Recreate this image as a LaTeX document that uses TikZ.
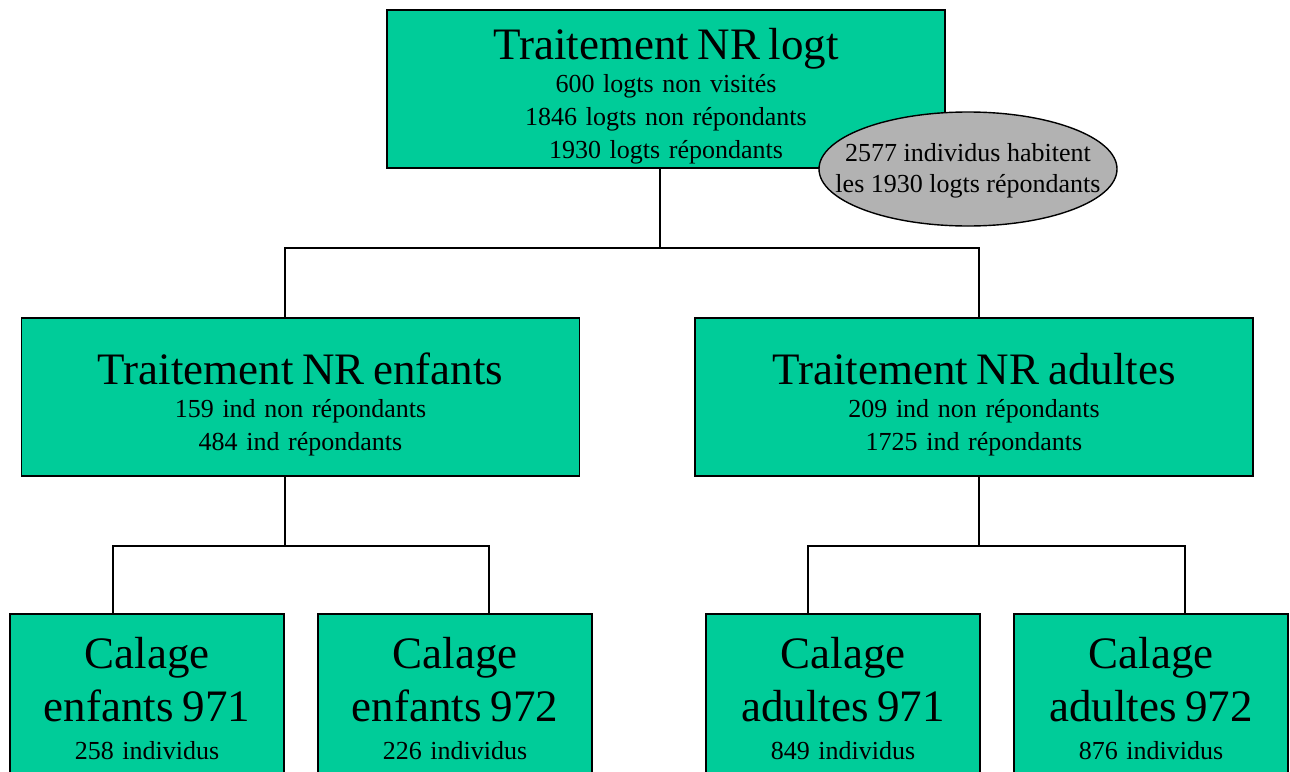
\documentclass[tikz,border=0pt]{standalone}
\usepackage{fontspec}
\setmainfont{Liberation Serif}
\usetikzlibrary{positioning,shapes.geometric}
\definecolor{vertnr}{HTML}{00CC99}
\definecolor{grisnr}{HTML}{B2B2B2}
\newcommand{\titre}[1]{{\fontsize{45}{33}\selectfont\rule{0pt}{46pt}#1}}
\newcommand{\gros}[1]{{\fontsize{45}{33}\selectfont #1}}
\newcommand{\bas}{\rule[-14pt]{0pt}{14pt}}
\tikzset{
  boite/.style={draw,line width=1.6pt,fill=vertnr,inner xsep=0pt,inner ysep=0pt,
    align=center,font=\fontsize{26}{33}\selectfont\lineskiplimit-60pt},
  grande/.style={boite,text width=558pt,minimum height=158pt},
  petite/.style={boite,text width=274pt,anchor=north,inner ysep=9pt},
  bulle/.style={ellipse,draw,line width=1.4pt,fill=grisnr,
    minimum width=298pt,minimum height=114pt,inner sep=0pt},
  lien/.style={line width=1.6pt}
}

\begin{document}
\begin{tikzpicture}[x=1pt,y=-1pt]
  \fill[white] (0,0) rectangle (1290,771);
  \useasboundingbox (0,0) rectangle (1290,771);

  \node[grande] (logt) at (666,89)
    {\titre{Traitement NR logt}\\600 logts non visités\\1846 logts non répondants\\1930 logts répondants};
  \node[bulle] (hab) at (968,169) {};
  \node[font=\fontsize{26}{31}\selectfont,align=center] (habtxt) at (968,171)
    {2577 individus habitent\\les 1930 logts répondants};

  \node[grande] (enf) at (300.5,397)
    {\titre{Traitement NR enfants}\\159 ind non répondants\\484 ind répondants};
  \node[grande] (adu) at (974,397)
    {\titre{Traitement NR adultes}\\209 ind non répondants\\1725 ind répondants};

  \node[petite] (ce1) at (147,613) {\titre{Calage}\\[20pt]\gros{enfants 971}\\[5pt]258 individus\bas};
  \node[petite] (ce2) at (455,613) {\titre{Calage}\\[20pt]\gros{enfants 972}\\[5pt]226 individus\bas};
  \node[petite] (ca1) at (843,613) {\titre{Calage}\\[20pt]\gros{adultes 971}\\[5pt]849 individus\bas};
  \node[petite] (ca2) at (1151,613) {\titre{Calage}\\[20pt]\gros{adultes 972}\\[5pt]876 individus\bas};

  \coordinate (b0) at (660,248);
  \coordinate (b1) at (285,546);
  \coordinate (b2) at (979,546);
  \coordinate (c1) at (113,546);
  \coordinate (c2) at (489,546);
  \coordinate (c3) at (808,546);
  \coordinate (c4) at (1185,546);

  \draw[lien] (logt.south -| b0) -- (b0);
  \draw[lien] (enf.north -| b1) |- (b0) -| (adu.north -| b2);
  \draw[lien] (enf.south -| b1) -- (b1);
  \draw[lien] (adu.south -| b2) -- (b2);
  \draw[lien] (ce1.north -| c1) |- (b1) -| (ce2.north -| c2);
  \draw[lien] (ca1.north -| c3) |- (b2) -| (ca2.north -| c4);
\end{tikzpicture}
\end{document}
